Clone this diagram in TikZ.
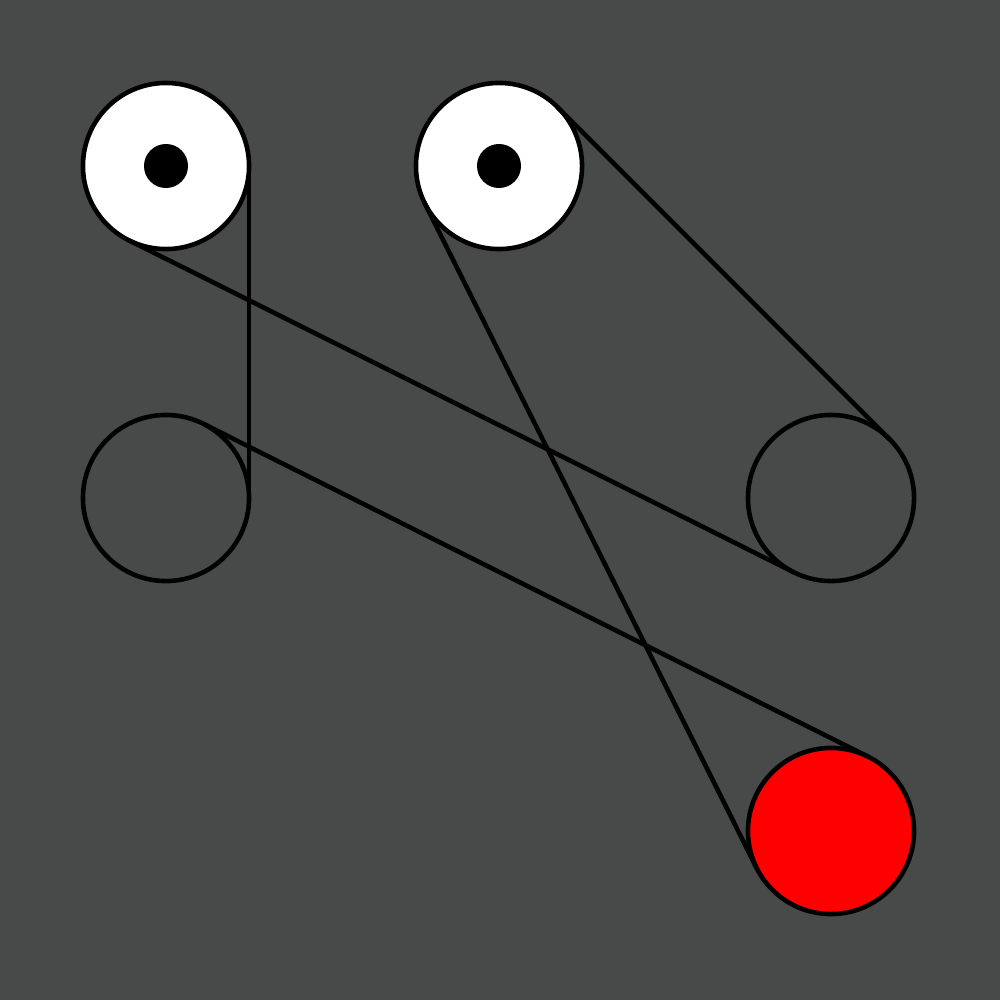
\documentclass[tikz,border=0pt]{standalone}
\definecolor{bg}{RGB}{72,73,73}
\begin{document}
\begin{tikzpicture}[x=0.01cm,y=-0.01cm,
  pulley/.style={circle,draw=black,line width=1.3pt,minimum size=1.66cm,inner sep=0pt,outer sep=0pt},
  hub/.style={circle,fill=black,minimum size=0.44cm,inner sep=0pt,outer sep=0pt},
  belt/.style={draw=black,line width=1.3pt,line cap=round}]
\fill[bg] (0,0) rectangle (1000,1000);
\useasboundingbox (0,0) rectangle (1000,1000);
\node[pulley,fill=white] (c1) at (166,166) {};
\node[pulley,fill=white] (c2) at (499,166) {};
\node[pulley] (c3) at (166,498) {};
\node[pulley] (c4) at (831,498) {};
\node[pulley,fill=red] (c5) at (831,831) {};
\node[hub] (h1) at (c1.center) {};
\node[hub] (h2) at (c2.center) {};
\draw[belt] (c1.0) -- (c3.0);
\draw[belt] (c1.243.4) -- (c4.243.4);
\draw[belt] (c2.45) -- (c4.45);
\draw[belt] (c2.206.6) -- (c5.206.6);
\draw[belt] (c3.63.4) -- (c5.63.4);
\end{tikzpicture}
\end{document}
